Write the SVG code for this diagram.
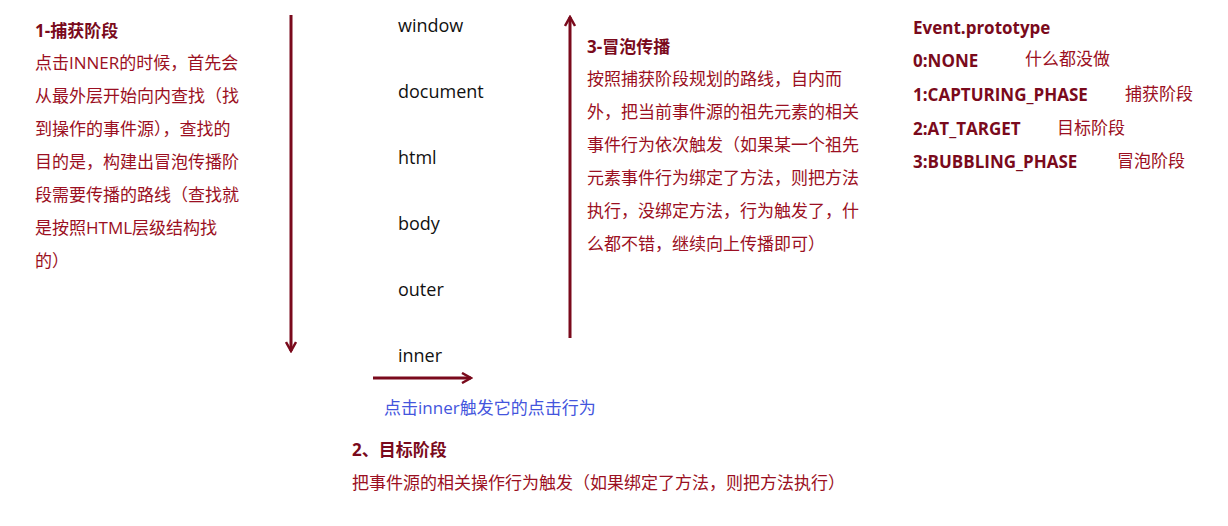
<svg xmlns="http://www.w3.org/2000/svg" width="1228" height="526" viewBox="0 0 1228 526">
<style>
text{font-family:"Open Sans","Noto Sans CJK SC",sans-serif;font-size:17px;dominant-baseline:central}
.t{font-weight:bold;fill:#7a0a1c}
.r{fill:#9b0f22}
.k{fill:#111;font-size:18px}
.b{fill:#4455dd}
.ln{stroke:#7a0a1c;stroke-width:3;fill:none}
</style>
<defs><marker id="a" viewBox="0 0 12 12" refX="10" refY="6" markerWidth="12" markerHeight="12" markerUnits="userSpaceOnUse" orient="auto"><path d="M1 1L10 6L1 11" fill="none" stroke="#7a0a1c" stroke-width="2.5"/></marker></defs>
<rect width="1228" height="526" fill="#fff"/>
<g id="connectors">
<line class="ln" x1="291" y1="15" x2="291" y2="351" marker-end="url(#a)"/>
<line class="ln" x1="570" y1="338" x2="570" y2="17" marker-end="url(#a)"/>
<line class="ln" x1="373" y1="378" x2="471" y2="378" marker-end="url(#a)"/>
</g>
<g id="capture">
<text class="t" x="35" y="30">1-捕获阶段</text>
<text class="r" x="35" y="62">点击INNER的时候，首先会</text>
<text class="r" x="35" y="95">从最外层开始向内查找（找</text>
<text class="r" x="35" y="128">到操作的事件源），查找的</text>
<text class="r" x="35" y="161">目的是，构建出冒泡传播阶</text>
<text class="r" x="35" y="194">段需要传播的路线（查找就</text>
<text class="r" x="35" y="227">是按照HTML层级结构找</text>
<text class="r" x="35" y="260">的）</text>
</g>
<g id="window"><text class="k" x="398" y="25">window</text></g>
<g id="document"><text class="k" x="398" y="91">document</text></g>
<g id="html"><text class="k" x="398" y="157">html</text></g>
<g id="body"><text class="k" x="398" y="223">body</text></g>
<g id="outer"><text class="k" x="398" y="289">outer</text></g>
<g id="inner"><text class="k" x="398" y="355">inner</text></g>
<g id="bubble">
<text class="t" x="587" y="46">3-冒泡传播</text>
<text class="r" x="587" y="78">按照捕获阶段规划的路线，自内而</text>
<text class="r" x="587" y="111">外，把当前事件源的祖先元素的相关</text>
<text class="r" x="587" y="144">事件行为依次触发（如果某一个祖先</text>
<text class="r" x="587" y="177">元素事件行为绑定了方法，则把方法</text>
<text class="r" x="587" y="210">执行，没绑定方法，行为触发了，什</text>
<text class="r" x="587" y="243">么都不错，继续向上传播即可）</text>
</g>
<g id="proto">
<text class="t" x="913" y="27">Event.prototype</text>
<text class="t" x="913" y="60">0:NONE</text><text class="r" x="1025" y="58">什么都没做</text>
<text class="t" x="913" y="94">1:CAPTURING_PHASE</text><text class="r" x="1125" y="93">捕获阶段</text>
<text class="t" x="913" y="128">2:AT_TARGET</text><text class="r" x="1057" y="127">目标阶段</text>
<text class="t" x="913" y="161">3:BUBBLING_PHASE</text><text class="r" x="1117" y="160">冒泡阶段</text>
</g>
<g id="target">
<text class="b" x="384" y="407">点击inner触发它的点击行为</text>
<text class="t" x="352" y="449">2、目标阶段</text>
<text class="r" x="352" y="482">把事件源的相关操作行为触发（如果绑定了方法，则把方法执行）</text>
</g>
</svg>
